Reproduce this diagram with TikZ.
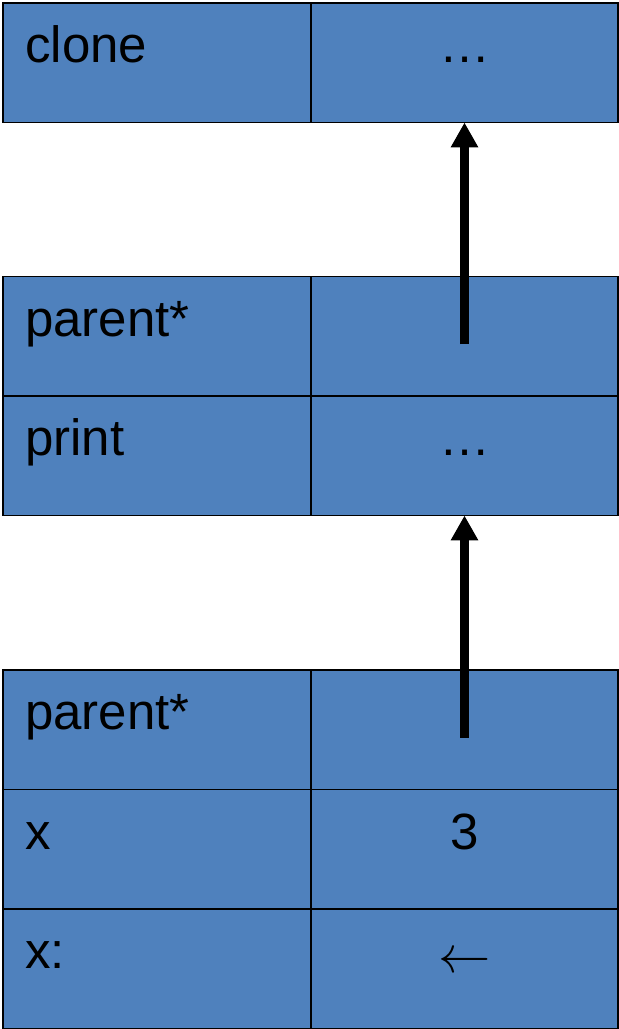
\documentclass[tikz,border=0pt]{standalone}
\usepackage{fontspec}
\setmainfont{Liberation Sans}
\usetikzlibrary{arrows.meta}
\definecolor{cellblue}{HTML}{4F81BD}
\tikzset{
  cellbox/.style={draw=black, line width=1.6pt, fill=cellblue, rectangle, inner sep=0pt, outer sep=0pt},
  leftcell/.style={cellbox, minimum width=308pt, minimum height=119.5pt, anchor=north west},
  rightcell/.style={cellbox, minimum width=307pt, minimum height=119.5pt, anchor=north west},
  lbl/.style={inner sep=0pt, font=\fontsize{51}{60}\selectfont},
  ptr/.style={line width=8.5pt, -{Triangle[length=25pt, width=26pt]}}
}
\newcommand{\cellrow}[4]{%
  \node[leftcell] (#1l) at (3,#2) {};
  \node[rightcell] (#1r) at (311,#2) {};
  \node[lbl, anchor=base west] (#1lt) at (25,#2-60) {#3};
  \node[lbl, anchor=base] (#1rt) at (464.5,#2-60) {#4};
}
\begin{document}
\begin{tikzpicture}[x=1pt,y=1pt]
\useasboundingbox (0,0) rectangle (619,1029);
\cellrow{a}{1026}{clone}{…}
\cellrow{b}{752.5}{parent*}{}
\cellrow{c}{633}{print}{…}
\cellrow{d}{359}{parent*}{}
\cellrow{e}{239.5}{x}{3}
\cellrow{f}{120}{x:}{\raisebox{-4pt}{\scalebox{2.1}{$\leftarrow$}}}
\draw[ptr] ([yshift=-8pt]br.center) -- (ar.south);
\draw[ptr] ([yshift=-8pt]dr.center) -- (cr.south);
\end{tikzpicture}
\end{document}
